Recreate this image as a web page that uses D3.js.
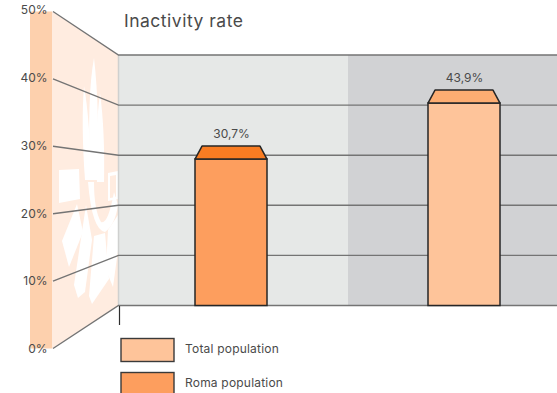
<!DOCTYPE html>
<html>
<head>
<meta charset="utf-8">
<script src="https://cdnjs.cloudflare.com/ajax/libs/d3/7.8.5/d3.min.js"></script>
<style>
html,body{margin:0;padding:0;background:#fff;}
svg{display:block;}
text{font-family:"Inter",sans-serif;fill:#4a4a4a;}
</style>
</head>
<body>
<svg id="chart" width="557" height="393"></svg>
<script>
const title = "Inactivity rate";
const groups = ["Roma population", "Total population"];
const values = [30.7, 43.9];
const valueLabels = ["30,7%", "43,9%"];
const ticks = [0, 10, 20, 30, 40, 50];
const legendOrder = ["Total population", "Roma population"];
const frontColors = ["#fd9e5e", "#fec49a"];
const topColors = ["#f97c22", "#fdad72"];
const legendColors = ["#fec49a", "#fd9e5e"];

const svg = d3.select("#chart");

// Back wall and slanted side wall each get their own scale over the same domain.
const yBack = d3.scaleLinear().domain([0, 50]).range([305.5, 55]);
const ySide = d3.scaleLinear().domain([0, 50]).range([348.5, 11.5]);
const yLabel = d3.scaleLinear().domain([0, 50]).range([349, 10]);
// Bar tops sit in front of the wall, on the chart's own perspective.
const yFront = d3.scaleLinear().domain([0, 50]).range([289.2, 77.2]);
const barWidth = 72, inset = 7, depth = 13;
const wallX = 118.5, sideX = 52, stripX = 30;

// Side strip and slanted wall
svg.append("rect").attr("x", stripX).attr("y", ySide(50)).attr("width", sideX - stripX)
  .attr("height", ySide(0) - ySide(50)).attr("fill", "#fdd0ad");
svg.append("path")
  .attr("d", d3.line()([[sideX, ySide(50)], [wallX, yBack(50)], [wallX, yBack(0)], [sideX, ySide(0)]]))
  .attr("fill", "#ffece0");

// White emblem on the slanted wall
const emblem = [
  "M84 86 Q81 125 85 180 L91 180 Q90 120 84 86Z",
  "M94 58 Q87 95 90 180 L97 180 Q100 110 94 58Z",
  "M100 93 Q95 130 97 182 L104 182 Q105 130 100 93Z",
  "M59 170 L79 169 L80 199 L59 203Z",
  "M108 173 L118 171 L118 199 L108 201Z M110 176 L110 198 L116 197 L116 175Z",
  "M77 204 L62 241 L69 267 L83 232Z",
  "M86 205 L74 285 L78 298 L85 292 L92 240Z",
  "M94 236 L105 233 L109 279 L92 304 L89 296Z",
  "M108 230 L118 215 L118 250 L113 287 L106 270Z",
  "M88 182 Q92 230 105 232 Q115 225 118 205 L114 192 Q108 225 101 222 Q94 210 94 182Z"
];
svg.append("g").selectAll("path").data(emblem).join("path")
  .attr("d", d => d).attr("fill", "#ffffff").attr("fill-rule", "evenodd");

// Back wall, two tinted halves
svg.append("rect").attr("x", wallX).attr("y", yBack(50)).attr("width", 230)
  .attr("height", yBack(0) - yBack(50)).attr("fill", "#e6e8e7");
svg.append("rect").attr("x", 348).attr("y", yBack(50)).attr("width", 209)
  .attr("height", yBack(0) - yBack(50)).attr("fill", "#d1d2d4");
svg.append("line").attr("x1", wallX).attr("x2", wallX).attr("y1", yBack(50)).attr("y2", yBack(0))
  .attr("stroke", "#cfd0cf").attr("stroke-width", 1.5);

// Gridlines with their slanted leaders
const grid = svg.append("g");
grid.selectAll("path").data(ticks).join("path")
  .attr("d", d => d3.line()([[sideX + 1, ySide(d)], [wallX, yBack(d)], [557, yBack(d)]]))
  .attr("fill", "none").attr("stroke", "#747474").attr("stroke-width", 1.4);

svg.append("line").attr("x1", 119.5).attr("x2", 119.5).attr("y1", 306).attr("y2", 325)
  .attr("stroke", "#2e2e2e").attr("stroke-width", 1.2);

// Tick labels
svg.append("g").selectAll("text").data(ticks).join("text")
  .attr("x", 47.5).attr("y", d => yLabel(d)).attr("dy", "0.35em").attr("text-anchor", "end")
  .attr("font-size", 12).text(d => d + "%");

// Bars: front face plus a trapezoid lid
const centres = [231, 464];
const bars = svg.append("g").selectAll("g").data(values).join("g");
bars.append("rect")
  .attr("x", (d, i) => centres[i] - barWidth / 2)
  .attr("y", d => yFront(d))
  .attr("width", barWidth)
  .attr("height", d => yBack(0) - yFront(d))
  .attr("fill", (d, i) => frontColors[i])
  .attr("stroke", "#262626").attr("stroke-width", 1.5);
bars.append("path")
  .attr("d", (d, i) => {
    const c = centres[i], t = yFront(d);
    return d3.line()([[c - barWidth / 2, t], [c - barWidth / 2 + inset, t - depth],
      [c + barWidth / 2 - inset, t - depth], [c + barWidth / 2, t]]) + "Z";
  })
  .attr("fill", (d, i) => topColors[i])
  .attr("stroke", "#262626").attr("stroke-width", 1.5).attr("stroke-linejoin", "round");
bars.append("text")
  .attr("x", (d, i) => centres[i] + 0.5)
  .attr("y", d => yFront(d) - 21)
  .attr("text-anchor", "middle").attr("font-size", 12)
  .text((d, i) => valueLabels[i]);

// Title
svg.append("text").attr("x", 124).attr("y", 27).attr("font-size", 17.5).attr("letter-spacing", 0.5).text(title);

// Legend
const legend = svg.append("g").selectAll("g").data(legendOrder).join("g");
legend.append("rect")
  .attr("x", 121).attr("y", (d, i) => 338.5 + i * 34).attr("width", 53).attr("height", 23)
  .attr("fill", (d, i) => legendColors[i]).attr("stroke", "#3a3a3a").attr("stroke-width", 1.4);
legend.append("text")
  .attr("x", 185).attr("y", (d, i) => 348.5 + i * 34).attr("dy", "0.35em")
  .attr("font-size", 12).attr("letter-spacing", 0.2).text(d => d);
</script>
</body>
</html>
